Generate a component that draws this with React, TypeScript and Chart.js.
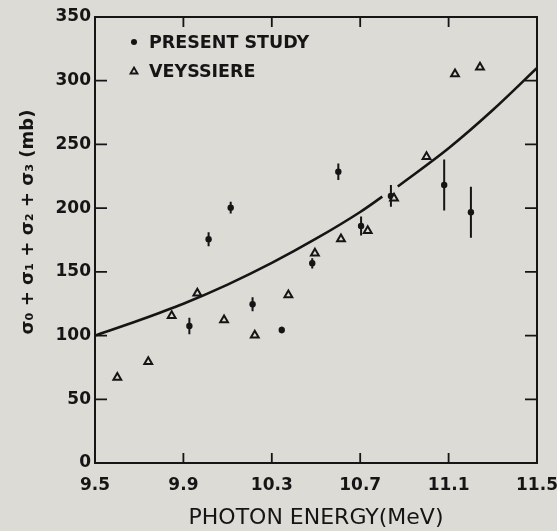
import React, { useEffect, useRef } from "react";
import { Chart, registerables } from "chart.js";

Chart.register(...registerables);

// ---- data ----
const presentEnergy = [9.927, 10.014, 10.114, 10.213, 10.345, 10.483, 10.601, 10.704, 10.839, 11.08, 11.201];
const presentValue = [107.5, 175.6, 200.4, 124.6, 104.4, 156.7, 228.6, 186, 209.6, 218.2, 196.8];
const presentError = [6.5, 5.5, 4.7, 5.5, 2.5, 4, 6.5, 7.5, 8.5, 20, 20];

const veyssiereEnergy = [9.601, 9.741, 9.847, 9.963, 10.084, 10.223, 10.375, 10.495, 10.613, 10.734, 10.853, 11.0, 11.129, 11.242];
const veyssiereValue = [67, 79.5, 115.6, 133.2, 112.2, 100.2, 131.9, 164.6, 175.8, 182.3, 207.8, 240.4, 305.3, 310.6];

// smooth curve (null marks the small break in the drawn line)
const curveEnergy = [9.5, 9.7, 9.9, 10.1, 10.3, 10.5, 10.7, 10.8, 10.835, 10.87, 11.1, 11.3, 11.5];
const curveValue: (number | null)[] = [100, 112, 125, 140, 157, 176, 197, 209, null, 217, 247, 277, 310];

const xTicks = [9.5, 9.9, 10.3, 10.7, 11.1, 11.5];
const xTickLabels = ["9.5", "9.9", "10.3", "10.7", "11.1", "11.5"];
const yTicks = [0, 50, 100, 150, 200, 250, 300, 350];
const yTickLabels = ["0", "50", "100", "150", "200", "250", "300", "350"];

const legendLabels = ["PRESENT STUDY", "VEYSSIERE"];
const xTitle = "PHOTON ENERGY(MeV)";
const yTitle = "σ₀ + σ₁ + σ₂ + σ₃ (mb)";

const INK = "#151515";
const BG = "#dcdbd6";
const FONT = "'DejaVu Sans', sans-serif";

export default function App() {
  const ref = useRef<HTMLCanvasElement | null>(null);

  useEffect(() => {
    const canvas = ref.current;
    if (!canvas) return;

    const bgPlugin = {
      id: "bg",
      beforeDraw(chart: any) {
        const { ctx, width, height } = chart;
        ctx.save();
        ctx.fillStyle = BG;
        ctx.fillRect(0, 0, width, height);
        ctx.restore();
      },
    };

    const framePlugin = {
      id: "frame",
      beforeDatasetsDraw(chart: any) {
        const { ctx, chartArea } = chart;
        const { left, right, top, bottom } = chartArea;
        const xs = chart.scales.x;
        const ys = chart.scales.y;
        ctx.save();
        ctx.strokeStyle = INK;
        ctx.lineWidth = 2;
        ctx.strokeRect(left, top, right - left, bottom - top);
        ctx.lineWidth = 1.8;
        ctx.beginPath();
        yTicks.forEach((v) => {
          if (v === yTicks[0] || v === yTicks[yTicks.length - 1]) return;
          const y = ys.getPixelForValue(v);
          ctx.moveTo(left, y);
          ctx.lineTo(left + 12, y);
          ctx.moveTo(right, y);
          ctx.lineTo(right - 12, y);
        });
        xTicks.forEach((v) => {
          if (v === xTicks[0] || v === xTicks[xTicks.length - 1]) return;
          const x = xs.getPixelForValue(v);
          ctx.moveTo(x, bottom);
          ctx.lineTo(x, bottom - 10);
          ctx.moveTo(x, top);
          ctx.lineTo(x, top + 10);
        });
        ctx.stroke();

        // y-axis title, rotated
        const ty = (top + bottom) / 2 - 18;
        ctx.translate(28, ty);
        ctx.rotate(-Math.PI / 2);
        ctx.fillStyle = INK;
        ctx.font = `bold 18px ${FONT}`;
        ctx.textAlign = "center";
        ctx.textBaseline = "middle";
        ctx.fillText(yTitle, 0, 0);
        ctx.restore();
      },
    };

    const errorPlugin = {
      id: "errbars",
      afterDatasetsDraw(chart: any) {
        const { ctx } = chart;
        const xs = chart.scales.x;
        const ys = chart.scales.y;
        ctx.save();
        ctx.strokeStyle = INK;
        ctx.lineWidth = 2;
        ctx.beginPath();
        presentEnergy.forEach((e, i) => {
          const x = xs.getPixelForValue(e);
          ctx.moveTo(x, ys.getPixelForValue(presentValue[i] - presentError[i]));
          ctx.lineTo(x, ys.getPixelForValue(presentValue[i] + presentError[i]));
        });
        ctx.stroke();
        ctx.restore();
      },
    };

    const legendPlugin = {
      id: "innerLegend",
      afterDatasetsDraw(chart: any) {
        const { ctx, chartArea } = chart;
        const mx = chartArea.left + 39;
        const tx = chartArea.left + 54;
        const y1 = chartArea.top + 25;
        const y2 = chartArea.top + 54;
        ctx.save();
        ctx.fillStyle = INK;
        ctx.strokeStyle = INK;
        ctx.beginPath();
        ctx.arc(mx, y1, 3, 0, Math.PI * 2);
        ctx.fill();
        ctx.lineWidth = 1.8;
        ctx.beginPath();
        ctx.moveTo(mx, y2 - 3.5);
        ctx.lineTo(mx + 3.5, y2 + 2.5);
        ctx.lineTo(mx - 3.5, y2 + 2.5);
        ctx.closePath();
        ctx.stroke();
        ctx.font = `bold 17.5px ${FONT}`;
        ctx.textBaseline = "middle";
        ctx.textAlign = "left";
        ctx.fillText(legendLabels[0], tx, y1 + 1);
        ctx.fillText(legendLabels[1], tx, y2 + 1);
        ctx.restore();
      },
    };

    const chart = new Chart(canvas, {
      type: "scatter",
      data: {
        datasets: [
          {
            label: "curve",
            data: curveEnergy.map((x, i) => ({ x, y: curveValue[i] })) as any,
            showLine: true,
            spanGaps: false,
            borderColor: INK,
            borderWidth: 2.6,
            pointRadius: 0,
            cubicInterpolationMode: "monotone",
            order: 3,
          },
          {
            label: legendLabels[0],
            data: presentEnergy.map((x, i) => ({ x, y: presentValue[i] })),
            pointStyle: "circle",
            pointRadius: 3.2,
            backgroundColor: INK,
            borderColor: INK,
            borderWidth: 0,
            order: 2,
          },
          {
            label: legendLabels[1],
            data: veyssiereEnergy.map((x, i) => ({ x, y: veyssiereValue[i] })),
            pointStyle: "triangle",
            pointRadius: 4.5,
            backgroundColor: BG,
            borderColor: INK,
            borderWidth: 2,
            order: 1,
          },
        ],
      },
      options: {
        animation: false,
        responsive: false,
        devicePixelRatio: 1,
        events: [],
        layout: { padding: { left: 0, right: 20, top: 17, bottom: 0 } },
        plugins: {
          legend: { display: false },
          tooltip: { enabled: false },
        },
        scales: {
          x: {
            type: "linear",
            min: 9.5,
            max: 11.5,
            afterBuildTicks: (s: any) => {
              s.ticks = xTicks.map((v) => ({ value: v }));
            },
            afterFit: (s: any) => {
              s.height = 68;
              s.paddingLeft = 0;
              s.paddingRight = 0;
            },
            grid: { display: false, drawTicks: false },
            border: { display: false },
            ticks: {
              autoSkip: false,
              maxRotation: 0,
              padding: 12,
              color: INK,
              font: { family: FONT, size: 17, weight: "bold" },
              callback: (_v: any, i: number) => xTickLabels[i],
            },
            title: {
              display: true,
              text: xTitle,
              color: INK,
              font: { family: FONT, size: 22, weight: "normal" },
              padding: { top: 0, bottom: 0 },
            },
          },
          y: {
            type: "linear",
            min: 0,
            max: 350,
            afterBuildTicks: (s: any) => {
              s.ticks = yTicks.map((v) => ({ value: v }));
            },
            afterFit: (s: any) => {
              s.width = 95;
              s.paddingTop = 0;
              s.paddingBottom = 0;
            },
            grid: { display: false, drawTicks: false },
            border: { display: false },
            ticks: {
              autoSkip: false,
              padding: 4,
              color: INK,
              font: { family: FONT, size: 17, weight: "bold" },
              callback: (_v: any, i: number) => yTickLabels[i],
            },
            title: { display: false },
          },
        },
      },
      plugins: [bgPlugin, framePlugin, errorPlugin, legendPlugin],
    } as any);

    return () => chart.destroy();
  }, []);

  return (
    <div style={{ position: "fixed", left: 0, top: 0, width: 557, height: 531, background: BG }}>
      <canvas ref={ref} width={557} height={531} style={{ display: "block", width: 557, height: 531 }} />
    </div>
  );
}
